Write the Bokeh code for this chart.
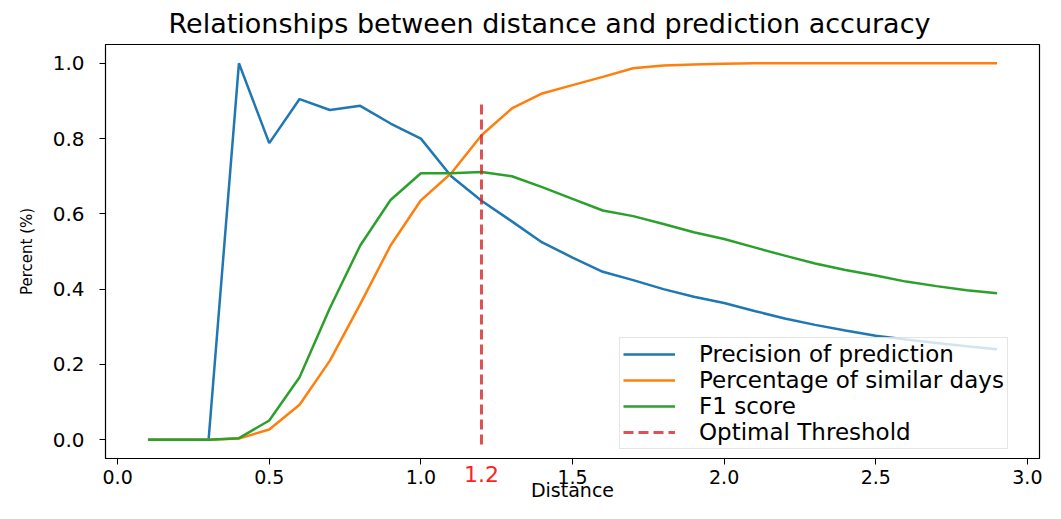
from bokeh.plotting import figure
from bokeh.models import (Legend, LegendItem, FixedTicker, Range1d,
                          NumeralTickFormatter, LinearAxis)
from bokeh.embed import file_html
from bokeh.resources import INLINE

# ---- data ----
distance = [0.1, 0.2, 0.3, 0.4, 0.5, 0.6, 0.7, 0.8, 0.9, 1.0,
            1.1, 1.2, 1.3, 1.4, 1.5, 1.6, 1.7, 1.8, 1.9, 2.0,
            2.1, 2.2, 2.3, 2.4, 2.5, 2.6, 2.7, 2.8, 2.9]
precision = [0.0, 0.0, 0.0, 1.0, 0.788, 0.905, 0.876, 0.887, 0.84, 0.80,
             0.70, 0.635, 0.58, 0.524, 0.484, 0.446, 0.424, 0.40, 0.38, 0.363,
             0.342, 0.322, 0.305, 0.29, 0.276, 0.266, 0.257, 0.248, 0.24]
similar_days = [0.0, 0.0, 0.0, 0.003, 0.027, 0.093, 0.21, 0.36, 0.516, 0.636,
                0.708, 0.809, 0.88, 0.92, 0.942, 0.964, 0.987, 0.994, 0.997, 0.999,
                1.0, 1.0, 1.0, 1.0, 1.0, 1.0, 1.0, 1.0, 1.0]
f1_score = [0.0, 0.0, 0.0, 0.004, 0.051, 0.166, 0.35, 0.516, 0.637, 0.708,
            0.708, 0.711, 0.70, 0.671, 0.64, 0.609, 0.594, 0.573, 0.551, 0.533,
            0.511, 0.489, 0.468, 0.451, 0.436, 0.42, 0.408, 0.397, 0.389]
threshold = 1.2
threshold_span = [-0.013, 0.9]

series_labels = ["Precision of prediction", "Percentage of similar days",
                 "F1 score", "Optimal Threshold"]
x_ticks = [0.0, 0.5, 1.0, 1.5, 2.0, 2.5, 3.0]
y_ticks = [0.0, 0.2, 0.4, 0.6, 0.8, 1.0]

FONT = "DejaVu Sans"

p = figure(width=1045, height=503, output_backend="svg", toolbar_location=None,
           x_range=Range1d(-0.04, 3.04), y_range=Range1d(-0.05, 1.05),
           min_border_left=105, min_border_right=6, min_border_top=44,
           min_border_bottom=40)

p.title.text = "Relationships between distance and prediction accuracy"
p.title.text_font = FONT
p.title.text_font_size = "27px"
p.title.text_font_style = "normal"
p.title.text_color = "black"
p.title.align = "left"
p.title.offset = 63
p.title.standoff = 8
p.title.vertical_align = "top"

p.xgrid.visible = False
p.ygrid.visible = False
p.outline_line_color = "black"
p.outline_line_width = 1.2
p.background_fill_color = "white"
p.border_fill_color = "white"

r1 = p.line(distance, precision, line_color="#1f77b4", line_width=2.5)
r2 = p.line(distance, similar_days, line_color="#ff7f0e", line_width=2.5)
r3 = p.line(distance, f1_score, line_color="#2ca02c", line_width=2.5)
r4 = p.segment(x0=[threshold], y0=[threshold_span[0]], x1=[threshold],
               y1=[threshold_span[1]], line_color="#d62728", line_alpha=0.8,
               line_width=3, line_dash="10 5")

xa = p.below[0]
ya = p.left[0]
for ax in (xa, ya):
    ax.axis_line_color = "black"
    ax.major_tick_line_color = "black"
    ax.major_tick_out = 6
    ax.major_tick_in = 0
    ax.minor_tick_line_color = None
    ax.minor_tick_out = 0
    ax.major_label_text_font = FONT
    ax.major_label_text_color = "black"
    ax.axis_label_text_font = FONT
    ax.axis_label_text_font_style = "normal"
    ax.axis_label_text_color = "black"
    ax.formatter = NumeralTickFormatter(format="0.0")

xa.ticker = FixedTicker(ticks=x_ticks)
ya.ticker = FixedTicker(ticks=y_ticks)
xa.major_label_text_font_size = "19px"
ya.major_label_text_font_size = "20px"
xa.major_label_standoff = 5
ya.major_label_standoff = 15
ya.axis_label = "Percent (%)"
ya.axis_label_text_font_size = "15px"
ya.axis_label_standoff = 14

# second bottom axis: red threshold tick label + the axis title
xb = LinearAxis(ticker=FixedTicker(ticks=[threshold]),
                formatter=NumeralTickFormatter(format="0.0"),
                axis_line_color=None, major_tick_line_color=None,
                major_tick_out=0, major_tick_in=0,
                minor_tick_line_color=None, minor_tick_out=0, minor_tick_in=0,
                major_label_text_color="#ff1f1f",
                major_label_text_font=FONT,
                major_label_text_font_size="22px",
                major_label_standoff=-21,
                axis_label="Distance",
                axis_label_text_font=FONT,
                axis_label_text_font_style="normal",
                axis_label_text_font_size="19px",
                axis_label_text_color="black",
                axis_label_standoff=-6)
p.add_layout(xb, "below")

legend = Legend(items=[LegendItem(label=series_labels[0], renderers=[r1]),
                       LegendItem(label=series_labels[1], renderers=[r2]),
                       LegendItem(label=series_labels[2], renderers=[r3]),
                       LegendItem(label=series_labels[3], renderers=[r4])],
                location=(514, 9))
legend.label_text_font = FONT
legend.label_text_font_size = "23px"
legend.label_text_color = "black"
legend.glyph_width = 52
legend.glyph_height = 26
legend.label_height = 26
legend.spacing = 0
legend.padding = 3
legend.label_standoff = 24
legend.border_line_color = "#cccccc"
legend.border_line_width = 1
legend.background_fill_color = "white"
legend.background_fill_alpha = 0.8
p.add_layout(legend)

open("out.html", "w").write(file_html(p, INLINE))
